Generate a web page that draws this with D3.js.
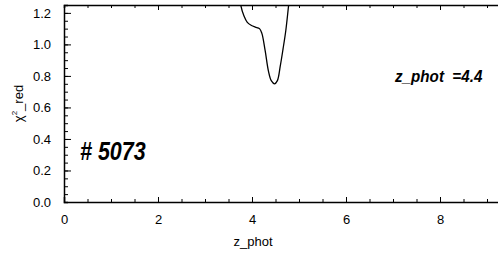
<!DOCTYPE html>
<html>
<head>
<meta charset="utf-8">
<script src="https://cdn.jsdelivr.net/npm/d3@7"></script>
<style>
  body { margin: 0; background: #fff; }
  svg { display: block; }
  text { font-family: "Liberation Sans", Arial, sans-serif; fill: #000; }
</style>
</head>
<body>
<div id="chart"></div>
<script>
// chi^2 curve
const zPhot = [3.62, 3.70, 3.76, 3.83, 3.90, 3.99, 4.07, 4.16, 4.21, 4.28, 4.35, 4.41, 4.48, 4.54, 4.60, 4.66, 4.72, 4.78, 4.84]
const chi2 = [1.55, 1.40, 1.25, 1.18, 1.14, 1.12, 1.11, 1.10, 1.07, 0.96, 0.83, 0.77, 0.75, 0.77, 0.86, 0.97, 1.09, 1.25, 1.40]
const xTicks = [0, 2, 4, 6, 8]
const yTicks = [0.0, 0.2, 0.4, 0.6, 0.8, 1.0, 1.2]
const objectLabel = "# 5073"
const zLabel = "z_phot  =4.4"

const W = 498, H = 259
const margin = {left: 64, top: 5, right: -2, bottom: 57}
const w = W - margin.left - margin.right
const h = H - margin.top - margin.bottom

const svg = d3.select("#chart").append("svg").attr("width", W).attr("height", H)

const xScale = d3.scaleLinear().domain([0, w / 47]).range([0, w])
const yScale = d3.scaleLinear().domain([0, 1.25]).range([h, 0])

svg.append("defs").append("clipPath").attr("id", "clip")
  .append("rect").attr("width", w).attr("height", h)

const g = svg.append("g").attr("transform", `translate(${margin.left},${margin.top})`)

// minor ticks
const xMinor = d3.range(0, w / 47, 0.5)
const yMinor = d3.range(0, 1.2501, 0.05)

// bottom axis
g.append("g").attr("transform", `translate(0,${h})`)
  .call(d3.axisBottom(xScale).tickValues(xMinor).tickSize(-3).tickFormat(""))
  .call(a => a.select(".domain").remove())
g.append("g").attr("transform", `translate(0,${h})`)
  .call(d3.axisBottom(xScale).tickValues(xTicks).tickSize(-5).tickPadding(13).tickFormat(d3.format("d")))
  .call(a => a.selectAll("text").attr("font-size", 13).attr("font-family", "Liberation Sans"))

// top axis
g.append("g")
  .call(d3.axisTop(xScale).tickValues(xMinor).tickSize(-3).tickFormat(""))
g.append("g")
  .call(d3.axisTop(xScale).tickValues(xTicks).tickSize(-5).tickFormat(""))
  .call(a => a.select(".domain").remove())

// left axis
g.append("g")
  .call(d3.axisLeft(yScale).tickValues(yMinor).tickSize(-4).tickFormat(""))
g.append("g")
  .call(d3.axisLeft(yScale).tickValues(yTicks).tickSize(-7).tickPadding(13).tickFormat(d3.format(".1f")))
  .call(a => a.select(".domain").remove())
  .call(a => a.selectAll("text").attr("font-size", 13).attr("font-family", "Liberation Sans"))

g.selectAll(".domain").attr("stroke-width", 1.5)
g.selectAll(".tick line").attr("stroke-width", 1)

// curve
const line = d3.line().x((d, i) => xScale(zPhot[i])).y(d => yScale(d)).curve(d3.curveCatmullRom)
g.append("path").datum(chi2)
  .attr("clip-path", "url(#clip)")
  .attr("d", line)
  .attr("fill", "none").attr("stroke", "#000").attr("stroke-width", 1.3)

// titles
svg.append("text")
  .attr("x", 253).attr("y", 246)
  .attr("text-anchor", "middle").attr("font-size", 13)
  .text("z_phot")

const yt = svg.append("text")
  .attr("transform", `translate(23,${margin.top + h / 2}) rotate(-90)`)
  .attr("text-anchor", "middle").attr("font-size", 13)
yt.append("tspan").text("\u03c7")
yt.append("tspan").attr("font-size", 8).attr("dy", -6).text("2")
yt.append("tspan").attr("dy", 6).text("_red")

// annotations
svg.append("text")
  .attr("transform", "translate(80,160) scale(0.86,1)")
  .attr("font-size", 25).attr("font-weight", "bold").attr("font-style", "italic")
  .text(objectLabel)

svg.append("text")
  .attr("transform", "translate(395,82) scale(0.95,1)")
  .attr("font-size", 16).attr("font-weight", "bold").attr("font-style", "italic")
  .attr("xml:space", "preserve").style("white-space", "pre")
  .text(zLabel)
</script>
</body>
</html>
